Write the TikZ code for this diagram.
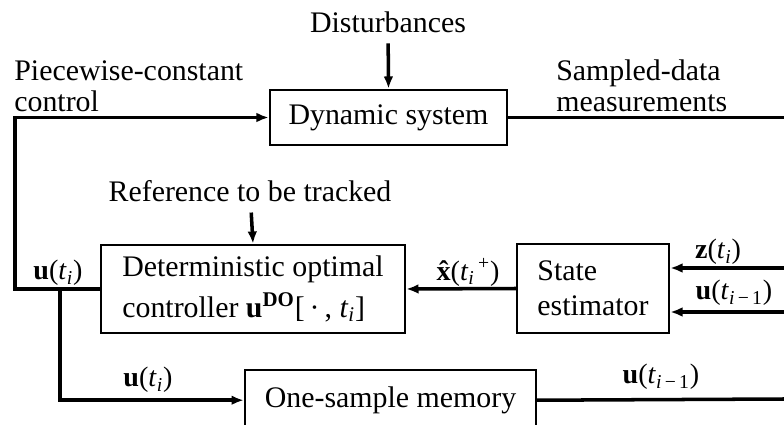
\documentclass[tikz,border=0pt]{standalone}
\usepackage{fontspec}
\setmainfont{Liberation Serif}
\usetikzlibrary{arrows.meta,positioning}

\newcommand{\vb}[1]{\textbf{#1}}
\newcommand{\tsub}[1]{\textit{t}\textsubscript{#1}}
\newcommand{\xhat}{\vb{x}\llap{\vb{ˆ}\kern0.08em}}

\begin{document}
\begin{tikzpicture}[x=0.02cm, y=-0.02cm,
  block/.style={draw, line width=1.4pt, align=left, font=\fontsize{17}{20}\selectfont},
  sig/.style={line width=2pt, -{Latex[length=7pt,width=5.5pt]}},
  wire/.style={line width=2pt},
  lbl/.style={font=\fontsize{17}{17.5}\selectfont, align=left, inner sep=0pt},
  sym/.style={font=\fontsize{16}{18}\selectfont, inner sep=0pt}]
  \useasboundingbox (0,0) rectangle (784,425);
  \clip (0,0) rectangle (784,425);
  % Define blocks
  \node[block, minimum width=4.74cm, minimum height=1.1cm] (dyn) at (388.5,117.5) {Dynamic system};
  \node[block, minimum width=6.08cm, minimum height=1.76cm] (ctrl) at (253,289)
    {Deterministic optimal\\[3pt] controller \vb{u}\textsuperscript{\vb{DO}}[\,·\,, \tsub{\textit{i}}]};
  \node[block, minimum width=3.04cm, minimum height=1.78cm] (est) at (593,288.5) {State\\estimator};
  \node[block, anchor=north, minimum width=5.82cm, minimum height=1.2cm] (mem) at (390.5,369) {One-sample memory};
  % Outside inputs and text
  \node[lbl] (dist) at (388,22) {Disturbances};
  \node[lbl] (ref) at (250,191) {Reference to be tracked};
  \node[lbl, anchor=west] (pwc) at (14,86) {Piecewise-constant\\control};
  \node[lbl, anchor=west] (sdm) at (556,86) {Sampled-data\\measurements};
  % Signal labels
  \node[sym] (ulft) at (58,273) {\vb{u}(\tsub{\textit{i}})};
  \node[sym] (ulow) at (148,380) {\vb{u}(\tsub{\textit{i}})};
  \node[sym] (xest) at (468,272) {\xhat(\tsub{\textit{i}}\textsuperscript{\,+})};
  \node[sym] (zmeas) at (718,252) {\vb{z}(\tsub{\textit{i}})};
  \node[sym] (uold) at (734,293) {\vb{u}(\tsub{\textit{i}\,−\,1})};
  \node[sym] (uout) at (661,377) {\vb{u}(\tsub{\textit{i}\,−\,1})};
  % Free ends and corners
  \coordinate (cl) at (15,289);
  \coordinate (br) at (60,289);
  \coordinate (yout) at (784,117.5);
  \coordinate (zin) at (784,268);
  \coordinate (uin) at (784,312);
  \coordinate (mout) at (784,399);
  % connect the blocks
  \draw[sig, shorten <=6pt] (dist) -- (dyn.north);
  \draw[sig, shorten <=6pt] (ref) -- (ctrl.north);
  \draw[sig] (ctrl.west) -- (cl) |- (dyn.west);
  \draw[sig] (br) |- (mem.west);
  \draw[wire] (dyn.east) -- (yout);
  \draw[wire] (mem.east) -- (mout);
  \draw[sig] (zin) -- (zin -| est.east);
  \draw[sig] (uin) -- (uin -| est.east);
  \draw[sig] (est.west) -- (ctrl.east);
\end{tikzpicture}
\end{document}
